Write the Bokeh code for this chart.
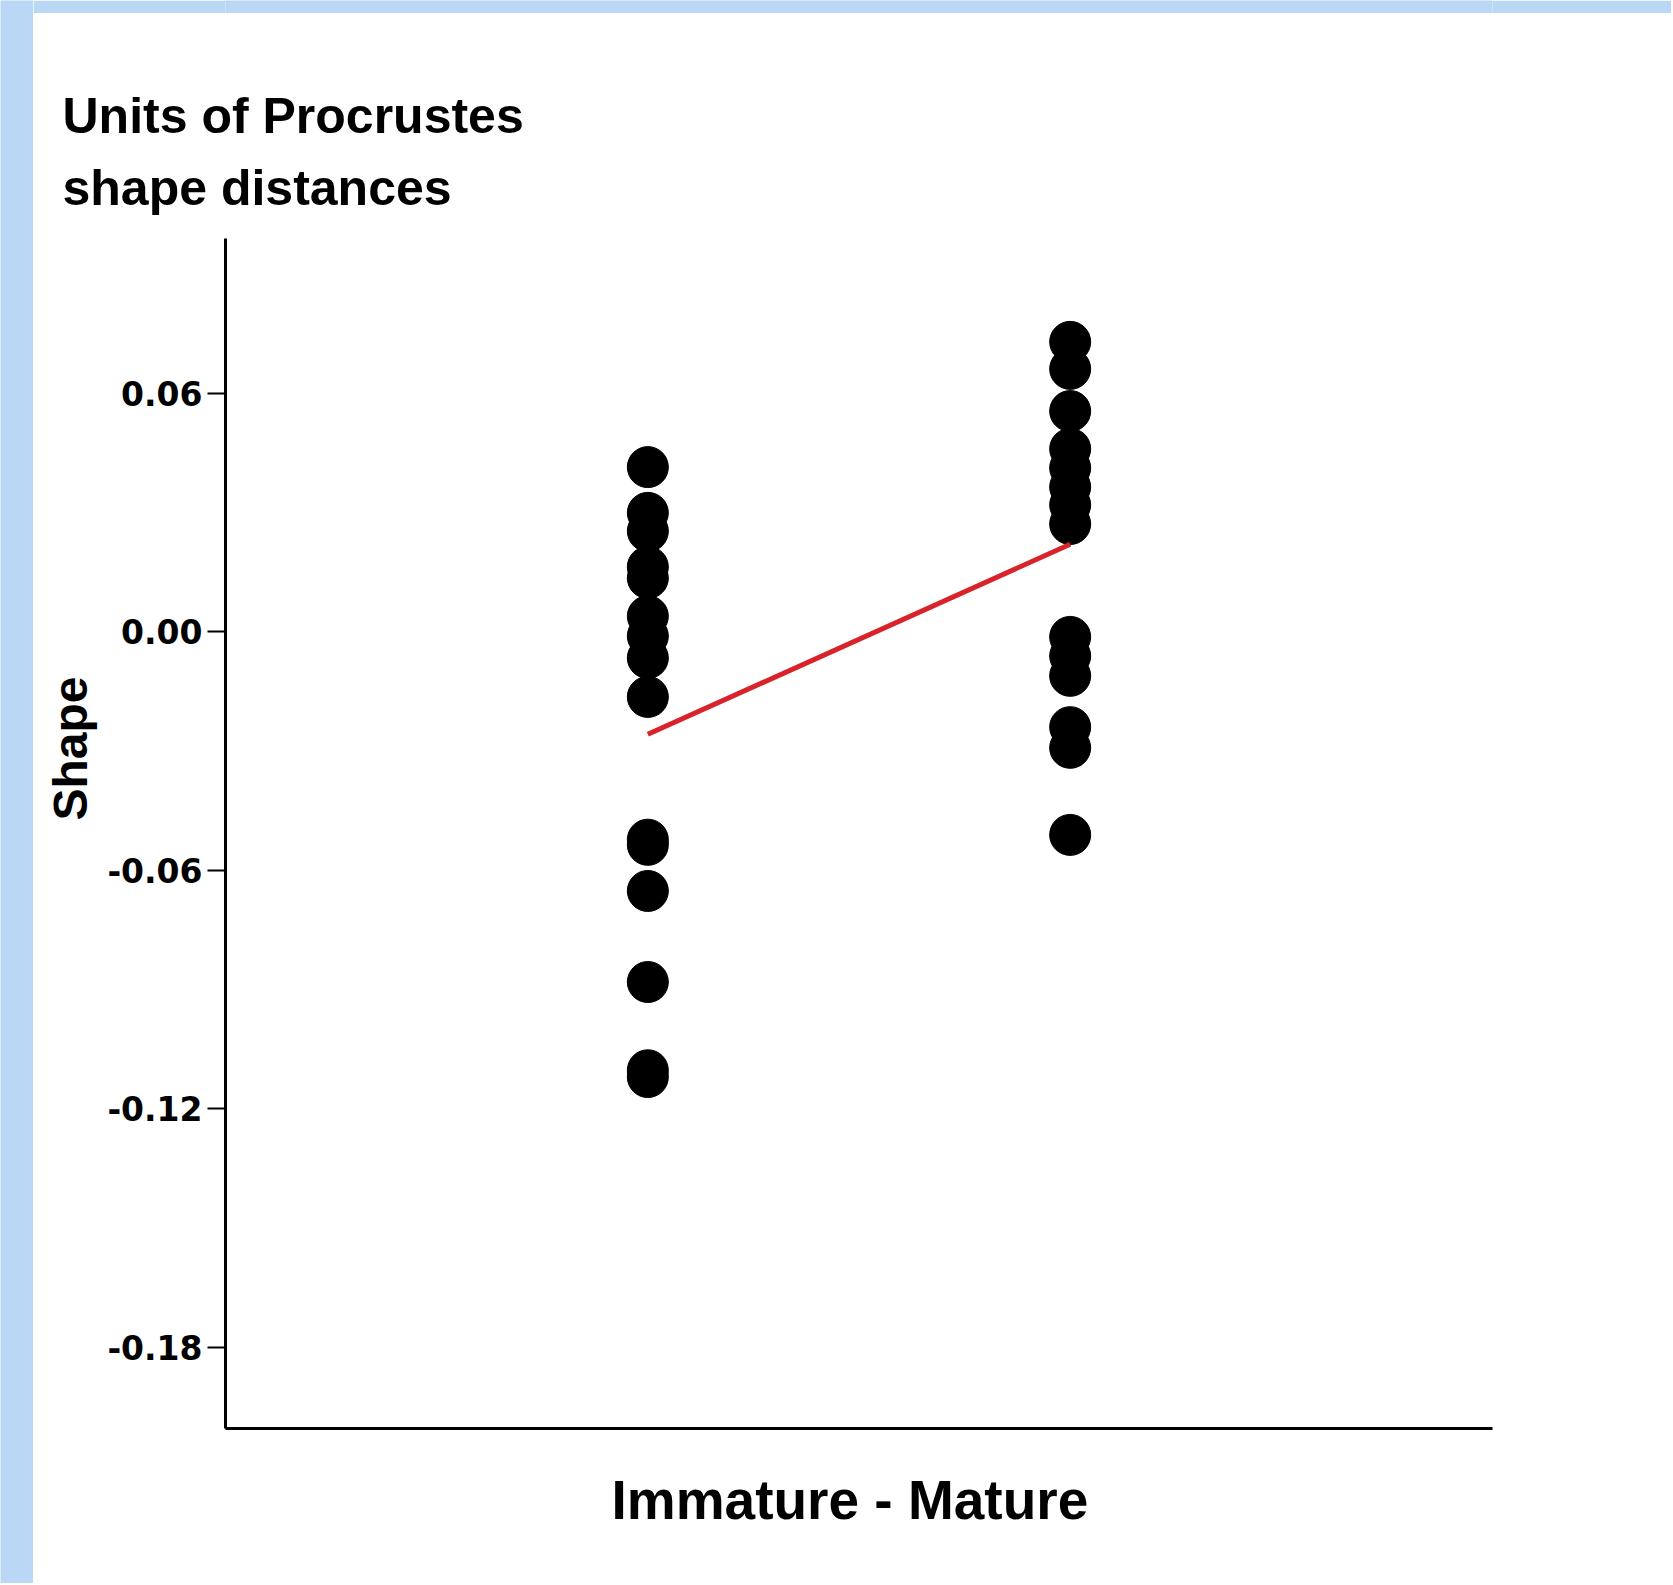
from bokeh.plotting import figure
from bokeh.layouts import row, column
from bokeh.models import Range1d, FixedTicker, Title
from bokeh.embed import file_html
from bokeh.resources import INLINE

# ---- data ----
group_x = [1, 2]
group_names = ["Immature", "Mature"]
immature_shape = [0.0414, 0.0299, 0.0253, 0.0163, 0.0135, 0.0039, -0.0011,
                  -0.0066, -0.0164, -0.0523, -0.0536, -0.0652, -0.0881,
                  -0.1103, -0.1120]
mature_shape = [0.0729, 0.0661, 0.0555, 0.0460, 0.0412, 0.0364, 0.0319,
                0.0271, -0.0013, -0.0061, -0.0111, -0.0240, -0.0292, -0.0511]
fit_x = [1, 2]
fit_shape = [-0.0258, 0.0220]
tick_values = [0.06, 0.0, -0.06, -0.12, -0.18]
tick_labels = ["0.06", "0.00", "-0.06", "-0.12", "-0.18"]

BLUE = "#bad8f6"


def strip(w, h):
    s = figure(width=w, height=h, toolbar_location=None, output_backend="svg",
               min_border=0, border_fill_color=BLUE, background_fill_color=BLUE,
               outline_line_color=None)
    s.axis.visible = False
    s.grid.visible = False
    s.scatter([0], [0], size=0, alpha=0)
    return s


p = figure(width=1638, height=1570, x_range=Range1d(0, 3),
           y_range=Range1d(-0.2004, 0.0989),
           toolbar_location=None, output_backend="svg",
           min_border_left=192, min_border_right=179,
           min_border_top=225, min_border_bottom=155,
           border_fill_color="white", background_fill_color="white")
p.outline_line_color = None
p.grid.visible = False

# y axis
p.yaxis.ticker = FixedTicker(ticks=tick_values)
p.yaxis.major_label_overrides = dict(zip(tick_values, tick_labels))
p.yaxis.axis_line_width = 3
p.yaxis.axis_line_color = "black"
p.yaxis.major_tick_line_width = 2
p.yaxis.major_tick_out = 18
p.yaxis.major_tick_in = 0
p.yaxis.minor_tick_line_color = None
p.yaxis.major_label_standoff = 5
p.yaxis.major_label_text_font = "DejaVu Sans"
p.yaxis.major_label_text_font_style = "bold"
p.yaxis.major_label_text_font_size = "33px"
p.yaxis.major_label_text_color = "black"

# x axis (line only)
p.xaxis.ticker = FixedTicker(ticks=[])
p.xaxis.major_tick_line_color = None
p.xaxis.minor_tick_line_color = None
p.xaxis.major_tick_out = 0
p.xaxis.major_label_text_font_size = "0px"
p.xaxis.axis_line_width = 3
p.xaxis.axis_line_color = "black"

# x label as a bottom title, placed under the two groups
p.add_layout(Title(text=group_names[0] + " - " + group_names[1],
                   align="left", offset=386, vertical_align="top",
                   standoff=80, text_font="Liberation Sans",
                   text_font_style="bold", text_font_size="55px",
                   text_color="black"), "below")

# title
p.title.text = "Units of Procrustes\nshape distances"
p.title.align = "left"
p.title.offset = -163
p.title.text_font = "Liberation Sans"
p.title.text_font_style = "bold"
p.title.text_font_size = "50px"
p.title.text_line_height = 1.29
p.title.text_color = "black"
p.title.standoff = 44

# rotated y label as a side title
p.add_layout(Title(text="Shape", align="left", offset=608,
                   vertical_align="bottom", standoff=15,
                   text_font="Liberation Sans", text_font_style="bold",
                   text_font_size="48px", text_color="black"), "left")

# data marks
p.scatter([group_x[0]] * len(immature_shape), immature_shape, size=41,
          fill_color="black", line_color="black")
p.scatter([group_x[1]] * len(mature_shape), mature_shape, size=41,
          fill_color="black", line_color="black")
p.line(fit_x, fit_shape, line_color="#d8232a", line_width=5)

left = strip(33, 1583)
top = strip(1638, 13)
layout = row(left, column(top, p))

open("out.html", "w").write(file_html(layout, INLINE))
